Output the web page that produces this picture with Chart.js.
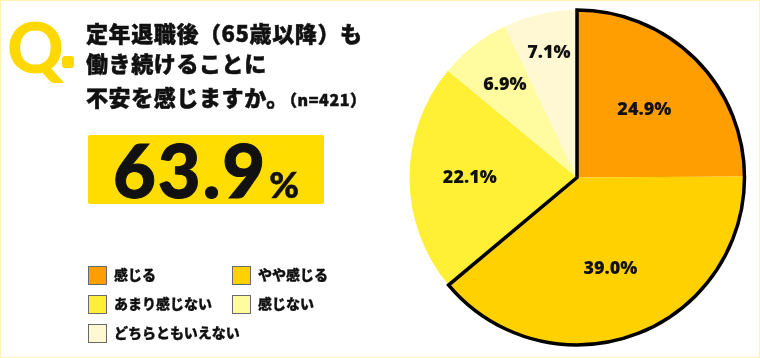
<!DOCTYPE html>
<html>
<head>
<meta charset="utf-8">
<script src="https://cdn.jsdelivr.net/npm/chart.js@4/dist/chart.umd.min.js"></script>
<style>
  html, body { margin: 0; padding: 0; background: #fff; }
  #wrap { position: relative; width: 760px; height: 358px; box-sizing: border-box; border: 1px solid #FFF3B4; overflow: hidden; background: #fff; }
  #c { position: absolute; left: 0; top: 0; }
  .jp { font-family: "Noto Sans CJK JP", "Noto Sans", sans-serif; font-weight: 900; color: #111; -webkit-text-stroke: 0.5px #111; }
  #q { position: absolute; left: 6px; top: 5px; font-family: "Lato", "Open Sans", sans-serif; font-weight: 900; font-size: 70px; line-height: 80px; color: #FFD800; }
  #qdot { position: absolute; left: 61px; top: 55px; width: 12px; height: 12px; border-radius: 3px; background: #FFD800; }
  .tl { position: absolute; left: 85px; font-size: 22px; line-height: 26px; white-space: nowrap; letter-spacing: 0.6px; }
  .tl small { font-size: 16px; font-weight: 900; }
  #big { position: absolute; left: 87px; top: 134px; width: 236px; height: 69px; background: #FFDD00; border-radius: 2px; text-align: center; }
  #big span.n { font-family: "Lato", "Open Sans", sans-serif; font-weight: 900; font-size: 74px; line-height: 69px; color: #111; letter-spacing: 2px; -webkit-text-stroke: 1px #111; }
  #big span.p { font-family: "Lato", "Open Sans", sans-serif; font-weight: 900; font-size: 36px; color: #111; margin-left: 2px; -webkit-text-stroke: 0.5px #111; }
  #legend { position: absolute; left: 87px; top: 265px; }
  .li { position: absolute; white-space: nowrap; font-size: 14px; line-height: 19px; -webkit-text-stroke: 0.3px #111; }
  .li i { position: absolute; left: 0; top: 0; width: 17px; height: 17px; border: 1px solid #6a6a6a; -webkit-text-stroke: 0; }
  .li span { position: absolute; left: 26px; top: -1px; }
</style>
</head>
<body>
<div id="wrap">
  <canvas id="c" width="760" height="358"></canvas>
  <div id="q">Q</div>
  <div id="qdot"></div>
  <div class="tl jp" style="top:18px">定年退職後（65歳以降）も</div>
  <div class="tl jp" style="top:48px">働き続けることに</div>
  <div class="tl jp" style="top:82px">不安を感じますか。<small>（n=421）</small></div>
  <div id="big"><span class="n">63.9</span><span class="p">%</span></div>
  <div id="legend" class="jp"></div>
</div>
<script>
// ---- data ----
const categories = ["感じる", "やや感じる", "あまり感じない", "感じない", "どちらともいえない"];
const values = [24.9, 39.0, 22.1, 6.9, 7.1];
const colors = ["#FF9E00", "#FFD100", "#FFF035", "#FFFB9E", "#FFF8D2"];
const valueLabels = ["24.9%", "39.0%", "22.1%", "6.9%", "7.1%"];
const highlighted = [0, 1];
const labelRadius = [0.57, 0.58, 0.64, 0.70, 0.76];

const sliceLabels = {
  id: 'sliceLabels',
  afterDatasetsDraw(chart) {
    const ctx = chart.ctx;
    const arcs = chart.getDatasetMeta(0).data;
    const first = arcs[highlighted[0]], last = arcs[highlighted[highlighted.length - 1]];
    ctx.save();
    ctx.beginPath();
    ctx.moveTo(first.x, first.y);
    ctx.arc(first.x, first.y, first.outerRadius, first.startAngle, last.endAngle);
    ctx.closePath();
    ctx.lineWidth = 3.5;
    ctx.lineJoin = 'miter';
    ctx.strokeStyle = '#000';
    ctx.stroke();
    ctx.font = '800 18px "Open Sans", "Noto Sans", sans-serif';
    ctx.fillStyle = '#111';
    ctx.textAlign = 'center';
    ctx.textBaseline = 'middle';
    arcs.forEach((a, i) => {
      const mid = (a.startAngle + a.endAngle) / 2;
      const r = a.outerRadius * labelRadius[i];
      ctx.fillText(valueLabels[i], a.x + Math.cos(mid) * r, a.y + Math.sin(mid) * r);
    });
    ctx.restore();
  }
};

const chart = new Chart(document.getElementById('c'), {
  type: 'pie',
  data: {
    labels: categories,
    datasets: [{ data: values, backgroundColor: colors, borderWidth: 0, hoverOffset: 0 }]
  },
  options: {
    responsive: false,
    animation: false,
    layout: { padding: { left: 408, right: 16, top: 9, bottom: 14 } },
    plugins: { legend: { display: false }, tooltip: { enabled: false } },
    events: []
  },
  plugins: [sliceLabels]
});

const leg = document.getElementById('legend');
const pos = [[0, 0], [144, 0], [0, 29], [144, 29], [0, 58]];
chart.data.labels.forEach((lab, i) => {
  const d = document.createElement('div');
  d.className = 'li';
  d.style.left = pos[i][0] + 'px';
  d.style.top = pos[i][1] + 'px';
  d.innerHTML = '<i style="background:' + chart.data.datasets[0].backgroundColor[i] + '"></i><span>' + lab + '</span>';
  leg.appendChild(d);
});
</script>
</body>
</html>
